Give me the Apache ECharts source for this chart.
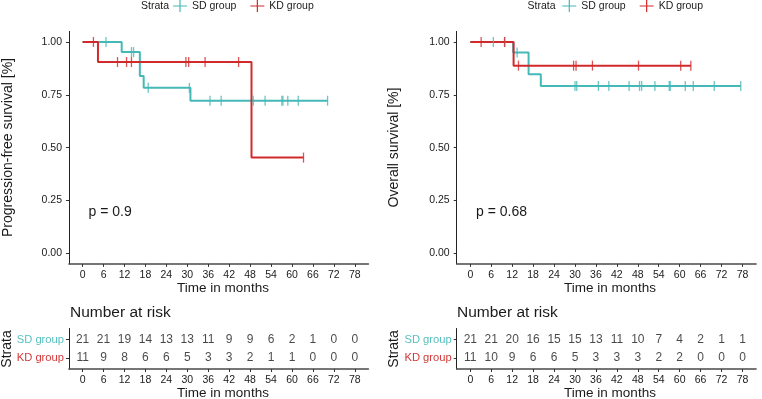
<!DOCTYPE html>
<html><head><meta charset="utf-8">
<script src="https://cdn.jsdelivr.net/npm/echarts@6/dist/echarts.min.js"></script>
<style>html,body{margin:0;padding:0;background:#fff}#c{width:762px;height:399px}</style>
</head><body><div id="c"></div>
<script>
// ---- data ----
const xTicks = [0,6,12,18,24,30,36,42,48,54,60,66,72,78];
const yTicks = [0,0.25,0.5,0.75,1];
const groups = ['SD group','KD group'];

// Progression-free survival
const pfsSDTimes = [0, 11.2, 16.4, 17.5, 30.9];
const pfsSDSurv  = [1, 0.952, 0.839, 0.783, 0.722];
const pfsSDEnd = 70.2;
const pfsSDCensor = [6.7, 14.0, 14.6, 18.8, 30.6, 36.5, 39.7, 48.9, 52.3, 57.1, 57.4, 58.8, 61.8, 70.2];
const pfsKDTimes = [0, 4.4, 48.4];
const pfsKDSurv  = [1, 0.905, 0.453];
const pfsKDEnd = 63.3;
const pfsKDCensor = [3.1, 10.0, 12.6, 14.0, 29.6, 30.4, 35.1, 44.7, 63.3];

// Overall survival
const osSDTimes = [0, 12.3, 16.7, 20.2];
const osSDSurv  = [1, 0.95, 0.847, 0.792];
const osSDEnd = 77.5;
const osSDCensor = [6.6, 9.9, 13.4, 30.0, 30.5, 36.7, 39.7, 45.5, 48.5, 49.1, 52.9, 57.0, 57.3, 61.6, 63.9, 69.9, 77.5];
const osKDTimes = [0, 12.4];
const osKDSurv  = [1, 0.888];
const osKDEnd = 63.2;
const osKDCensor = [3.1, 9.8, 13.8, 29.6, 30.3, 35.0, 48.2, 60.3, 63.2];

// Number at risk
const pfsRiskSD = [21,21,19,14,13,13,11,9,9,6,2,1,0,0];
const pfsRiskKD = [11,9,8,6,6,5,3,3,2,1,1,0,0,0];
const osRiskSD  = [21,21,20,16,15,15,13,11,10,7,4,2,1,1];
const osRiskKD  = [11,10,9,6,6,5,3,3,3,2,2,0,0,0];

const pText = ['p = 0.9', 'p = 0.68'];
const yTitles = ['Progression-free survival [%]', 'Overall survival [%]'];

// ---- styling ----
const FONT = '"Liberation Sans", Arial, sans-serif';
const C_SD = '#45B8B8', C_KD = '#D2292B';
const C_SD_T = '#58C0C0', C_KD_T = '#D23A3A';
const TXT = '#1a1a1a';

const mainTop = 31.4, mainH = 232.5, W = 299.4;
const lefts = [69, 456.7];
const tabTop = 328.5, tabH = 40.5;

function curve(times, surv, end){
  const d = times.map((t,i)=>[t, surv[i]]);
  d.push([end, surv[surv.length-1]]);
  return d;
}
function survAt(times, surv, t){
  let s = 1;
  for (let i=0;i<times.length;i++) if (times[i] <= t) s = surv[i];
  return s;
}
function cens(times, surv, c){ return c.map(t=>[t, survAt(times, surv, t)]); }

const grids = [
  {left: lefts[0], top: mainTop, width: W, height: mainH},
  {left: lefts[1], top: mainTop, width: W, height: mainH},
  {left: lefts[0], top: tabTop, width: W, height: tabH},
  {left: lefts[1], top: tabTop, width: W, height: tabH}
];

function xAx(gi){
  return {
    type:'value', gridIndex: gi, min: -3.9, max: 81.9,
    axisLine:{show:true, onZero:false, lineStyle:{color:'#4a4a4a', width:1.6}},
    axisTick:{show:true, customValues: xTicks, length:3, lineStyle:{color:'#333', width:1}},
    axisLabel:{customValues: xTicks, color: TXT, fontSize: 10.5, fontFamily: FONT, margin: 6},
    splitLine:{show:false}
  };
}
const xAxes = [xAx(0), xAx(1), xAx(2), xAx(3)];

function yMain(gi){
  return {
    type:'value', gridIndex: gi, min:-0.05, max:1.05,
    axisLine:{show:true, onZero:false, lineStyle:{color:'#222', width:1}},
    axisTick:{show:true, customValues: yTicks, length:3, lineStyle:{color:'#333'}},
    axisLabel:{customValues: yTicks, color: TXT, fontSize: 10.5, fontFamily: FONT, margin: 7,
      formatter: v => Number(v).toFixed(2)},
    splitLine:{show:false}
  };
}
function yTab(gi){
  return {
    type:'value', gridIndex: gi, min:0.4, max:2.6,
    axisLine:{show:true, onZero:false, lineStyle:{color:'#222', width:1}},
    axisTick:{show:true, customValues:[1,2], length:3, lineStyle:{color:'#333'}},
    axisLabel:{customValues:[1,2], margin:5, fontFamily: FONT, fontSize: 11.2,
      formatter: v => v==2 ? '{sd|'+groups[0]+'}' : '{kd|'+groups[1]+'}',
      rich:{sd:{color:C_SD_T, fontSize:11.2, fontFamily:FONT}, kd:{color:C_KD_T, fontSize:11.2, fontFamily:FONT}}},
    splitLine:{show:false}
  };
}
const yAxes = [yMain(0), yMain(1), yTab(2), yTab(3)];

function lineS(name, color, gi, data){
  return {type:'line', name, xAxisIndex:gi, yAxisIndex:gi, step:'end', symbol:'none',
    data, lineStyle:{color, width:2}, itemStyle:{color}, silent:true, animation:false, z:3};
}
function censS(name, color, gi, data){
  return {type:'scatter', name, xAxisIndex:gi, yAxisIndex:gi, symbol:'rect', symbolSize:[1.3, 10],
    data, itemStyle:{color}, silent:true, animation:false, z:4};
}
function riskS(gi, row, vals){
  return {type:'scatter', xAxisIndex:gi, yAxisIndex:gi, symbolSize:2, itemStyle:{color:'rgba(0,0,0,0)'},
    data: xTicks.map((t,i)=>({value:[t,row], label:{formatter:String(vals[i])}})), silent:true, animation:false,
    label:{show:true, position:'inside', color: TXT, fontSize: 12, fontFamily: FONT}, z:5};
}

const series = [
  lineS(groups[0], C_SD, 0, curve(pfsSDTimes, pfsSDSurv, pfsSDEnd)),
  lineS(groups[1], C_KD, 0, curve(pfsKDTimes, pfsKDSurv, pfsKDEnd)),
  censS(groups[0], C_SD, 0, cens(pfsSDTimes, pfsSDSurv, pfsSDCensor)),
  censS(groups[1], C_KD, 0, cens(pfsKDTimes, pfsKDSurv, pfsKDCensor)),
  lineS(groups[0], C_SD, 1, curve(osSDTimes, osSDSurv, osSDEnd)),
  lineS(groups[1], C_KD, 1, curve(osKDTimes, osKDSurv, osKDEnd)),
  censS(groups[0], C_SD, 1, cens(osSDTimes, osSDSurv, osSDCensor)),
  censS(groups[1], C_KD, 1, cens(osKDTimes, osKDSurv, osKDCensor)),
  riskS(2, 2, pfsRiskSD), riskS(2, 1, pfsRiskKD),
  riskS(3, 2, osRiskSD), riskS(3, 1, osRiskKD)
];

const plusIcon = 'path://M6.4,0H7.6V5.4H14V6.6H7.6V12H6.4V6.6H0V5.4H6.4Z';
function legend(left){
  return {left, top: 0, padding: 0, itemWidth: 14, itemHeight: 12, itemGap: 14, selectedMode:false,
    icon: plusIcon, textStyle:{color:TXT, fontSize:10.5, fontFamily:FONT},
    data: groups.map((g,i)=>({name:g, itemStyle:{color: i? C_KD : C_SD}}))};
}

function txt(x, y, s, size, opts){
  return Object.assign({type:'text', x, y, style:{text:s, fill:TXT, font: size+'px '+FONT,
    textAlign:'center', textVerticalAlign:'middle'}, silent:true}, opts||{});
}
function vtxt(x, y, s, size){
  const t = txt(x, y, s, size); t.rotation = Math.PI/2; return t;
}
function ltxt(x, y, s, size){
  return {type:'text', x, y, silent:true, style:{text:s, fill:TXT, font: size+'px '+FONT, textAlign:'left', textVerticalAlign:'middle'}};
}
const graphics = [
  txt(155, 6.5, 'Strata', 10.5),
  txt(541.5, 6.5, 'Strata', 10.5),
  vtxt(8, 147.5, yTitles[0], 14),
  vtxt(394, 147.5, yTitles[1], 14),
  txt(223, 288.5, 'Time in months', 13.5),
  txt(610, 288.5, 'Time in months', 13.5),
  txt(223, 393, 'Time in months', 13.5),
  txt(610, 393, 'Time in months', 13.5),
  vtxt(7, 349, 'Strata', 14),
  vtxt(394, 349, 'Strata', 14),
  ltxt(70, 313, 'Number at risk', 15.5),
  ltxt(457, 313, 'Number at risk', 15.5),
  ltxt(88.5, 212, pText[0], 14),
  ltxt(476, 212, pText[1], 14)
];

const chart = echarts.init(document.getElementById('c'), null, {renderer:'canvas'});
chart.setOption({
  animation:false,
  backgroundColor:'#fff',
  textStyle:{fontFamily:FONT},
  grid: grids, xAxis: xAxes, yAxis: yAxes, series,
  legend: [legend(173), legend(562.3)],
  graphic: graphics
});
</script></body></html>
